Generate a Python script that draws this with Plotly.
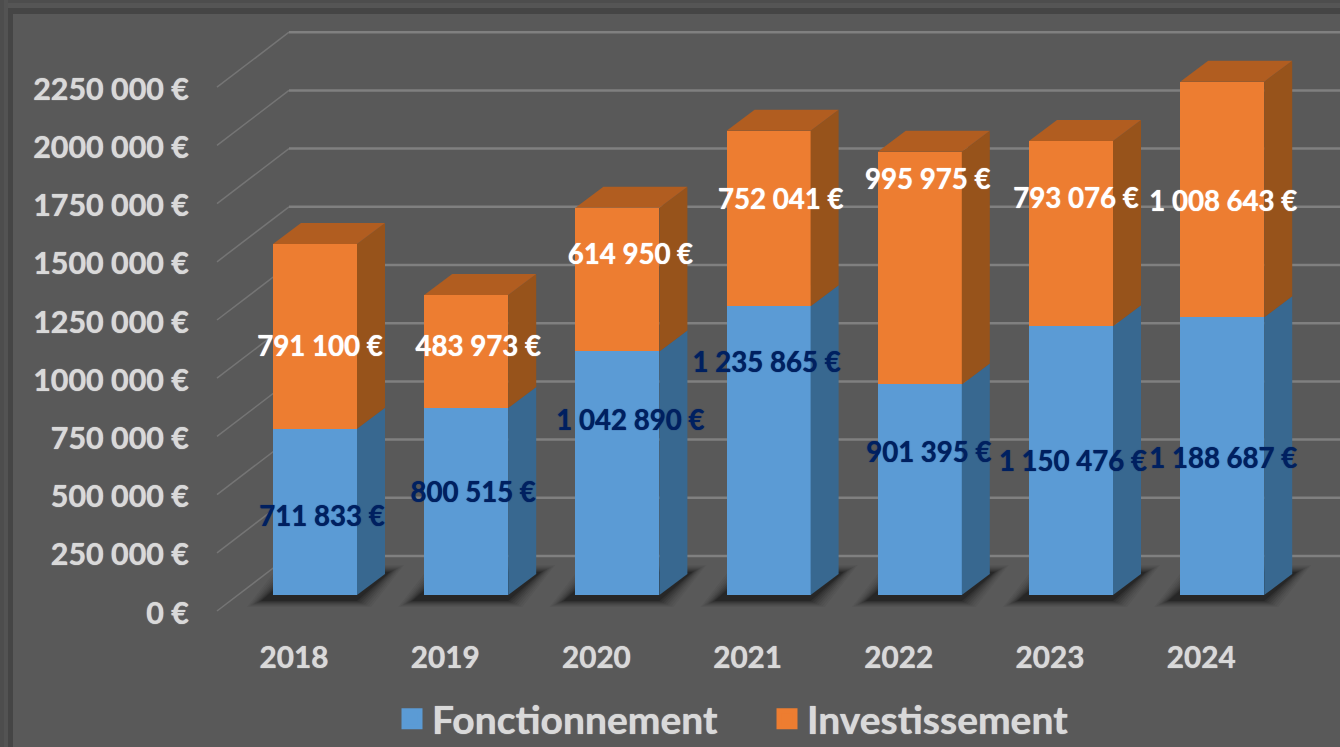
import plotly.graph_objects as go

years = ["2018", "2019", "2020", "2021", "2022", "2023", "2024"]
fonctionnement = [711833, 800515, 1042890, 1235865, 901395, 1150476, 1188687]
investissement = [791100, 483973, 614950, 752041, 995975, 793076, 1008643]
tick_values = [0, 250000, 500000, 750000, 1000000, 1250000, 1500000, 1750000, 2000000, 2250000]
tick_labels = ["0 €", "250 000 €", "500 000 €", "750 000 €", "1000 000 €", "1250 000 €",
               "1500 000 €", "1750 000 €", "2000 000 €", "2250 000 €"]

# hand-placed data labels: value height and sideways shift (in categories)
fonct_label_y = [325000, 428000, 736000, 985000, 599000, 561000, 574000]
fonct_label_dx = [0.046, 0.046, 0.086, -0.013, 0.06, 0.013, 0.007]
inv_label_y = [1053000, 1053000, 1447000, 1683000, 1768000, 1687000, 1674000]
inv_label_dx = [0.033, 0.08, 0.086, 0.08, 0.053, 0.033, 0.007]

W, H = 1340, 747
LEFT, BOTTOM = 190, 628
BAR_X0, STEP = 315.0, 151.2
BAR_W = 84 / STEP
GRID_ZERO, GRID_STEP = 613.0, 58.2      # front-of-floor scale (tick labels)
BAR_ZERO, BAR_SCALE = 595.0, 233.6e-6   # bar scale

FONT = "Lato, Carlito, 'Open Sans', sans-serif"
BLUE, ORANGE = "#5b9bd5", "#ed7d31"
BLUE_SIDE, ORANGE_SIDE, ORANGE_TOP = "#386890", "#97531b", "#b15d20"
SOFT_LIGHT = "0 0 1px #d9d9d9"


def px_x(dpx):
    return dpx / STEP


def px_grid(dpx):
    return dpx / GRID_STEP * 250000


def px_bar(dpx):
    return dpx / BAR_SCALE


def fmt(v):
    return f"{v:,}".replace(",", " ") + " €"


xs = list(range(len(years)))
fig = go.Figure()

# floor-to-wall gridlines (base axis, under the bars)
x_front = px_x(217 - BAR_X0)
x_back = px_x(289 - BAR_X0)
x_end = px_x(W - BAR_X0)
lift = px_grid(2)
rise = px_grid(57)
for v in tick_values:
    fig.add_trace(go.Scatter(
        x=[x_front, x_back], y=[v + lift, v + rise], mode="lines",
        line=dict(color="#757575", width=1.5), hoverinfo="skip", showlegend=False,
        xaxis="x", yaxis="y"))
    fig.add_trace(go.Scatter(
        x=[x_back, x_end], y=[v + rise, v + rise], mode="lines",
        line=dict(color="#808080", width=2.5), hoverinfo="skip", showlegend=False,
        xaxis="x", yaxis="y"))

# soft floor shadows: stacked translucent layers approximate a blur
for grow, alpha in [(14, 0.05), (12, 0.06), (10, 0.08), (8, 0.1), (6, 0.12), (4, 0.15), (2, 0.2), (0, 0.3)]:
    for i in xs:
        lx = i - BAR_W / 2 - px_x(12 + grow)
        rx = i + BAR_W / 2 + px_x(grow)
        dx = px_x(33)
        y0 = px_grid(12 - grow * 0.43)
        y1 = px_grid(41 + grow * 0.5)
        fig.add_trace(go.Scatter(
            x=[lx, rx, rx + dx, lx + dx, lx], y=[y0, y0, y1, y1, y0],
            mode="lines", fill="toself", fillcolor=f"rgba(20,20,20,{alpha})",
            line=dict(width=0), hoverinfo="skip", showlegend=False,
            xaxis="x", yaxis="y"))

# front faces
fig.add_trace(go.Bar(x=xs, y=fonctionnement, width=BAR_W, marker=dict(color=BLUE, line=dict(width=0)),
                     name="Fonctionnement", showlegend=False, xaxis="x", yaxis="y2"))
fig.add_trace(go.Bar(x=xs, y=investissement, width=BAR_W, marker=dict(color=ORANGE, line=dict(width=0)),
                     name="Investissement", showlegend=False, xaxis="x", yaxis="y2"))

# side and top faces derived from the values
depth_x, depth_y = px_x(28), px_bar(21)
for i, (a, b) in enumerate(zip(fonctionnement, investissement)):
    xr = i + BAR_W / 2
    xl = i - BAR_W / 2
    for lo, hi, col in [(0, a, BLUE_SIDE), (a, a + b, ORANGE_SIDE)]:
        fig.add_trace(go.Scatter(
            x=[xr, xr + depth_x, xr + depth_x, xr, xr],
            y=[lo, lo + depth_y, hi + depth_y, hi, lo],
            mode="lines", fill="toself", fillcolor=col, line=dict(width=0),
            hoverinfo="skip", showlegend=False, xaxis="x", yaxis="y2"))
    top = a + b
    fig.add_trace(go.Scatter(
        x=[xl, xr, xr + depth_x, xl + depth_x, xl],
        y=[top, top, top + depth_y, top + depth_y, top],
        mode="lines", fill="toself", fillcolor=ORANGE_TOP, line=dict(width=0),
        hoverinfo="skip", showlegend=False, xaxis="x", yaxis="y2"))

# data labels
fig.add_trace(go.Scatter(
    x=[i + d for i, d in zip(xs, fonct_label_dx)], y=fonct_label_y, mode="text",
    text=[fmt(v) for v in fonctionnement], textposition="middle center",
    textfont=dict(family=FONT, size=27.6, color="#002060", weight="bold", shadow="0 0 1px #002060"),
    hoverinfo="skip", showlegend=False, xaxis="x", yaxis="y2"))
fig.add_trace(go.Scatter(
    x=[i + d for i, d in zip(xs, inv_label_dx)], y=inv_label_y, mode="text",
    text=[fmt(v) for v in investissement], textposition="middle center",
    textfont=dict(family=FONT, size=27.6, color="#ffffff", weight="bold", shadow="0 0 1px #ffffff"),
    hoverinfo="skip", showlegend=False, xaxis="x", yaxis="y2"))

# legend entries
for name, col in [("Fonctionnement", BLUE), ("Investissement", ORANGE)]:
    fig.add_trace(go.Scatter(
        x=[None], y=[None], mode="markers", name=name,
        marker=dict(symbol="square", size=16, color=col, line=dict(color=col, width=5)),
        xaxis="x", yaxis="y2"))

# frame
frame = [
    (0, 0, W, 3, "#4d4d4d"), (0, 3, W, 8, "#555555"), (0, 8, W, 14, "#454545"),
    (0, 0, 4, H, "#4d4d4d"), (4, 0, 8, H, "#535353"), (8, 8, 13, H, "#454545"),
]
shapes = [dict(type="rect", xref="paper", yref="paper",
               x0=(a - LEFT) / (W - LEFT), x1=(c - LEFT) / (W - LEFT),
               y0=1 - (d / BOTTOM), y1=1 - (b / BOTTOM),
               fillcolor=col, line=dict(width=0), layer="below")
          for a, b, c, d, col in frame]

fig.update_layout(
    width=W, height=H, autosize=False,
    margin=dict(l=LEFT, r=0, t=0, b=H - BOTTOM, pad=0, autoexpand=False),
    paper_bgcolor="#595959", plot_bgcolor="rgba(0,0,0,0)",
    barmode="stack", bargap=0,
    shapes=shapes,
    font=dict(family=FONT, color="#d9d9d9"),
    xaxis=dict(range=[(LEFT - BAR_X0) / STEP, (W - BAR_X0) / STEP],
               tickmode="array", tickvals=[i - 21 / STEP for i in xs], ticktext=years,
               tickfont=dict(family=FONT, size=29.7, color="#d9d9d9", weight="bold", shadow=SOFT_LIGHT),
               showgrid=False, zeroline=False, showline=False, ticks="", ticklabelstandoff=9),
    yaxis=dict(range=[(GRID_ZERO - BOTTOM) / GRID_STEP * 250000, GRID_ZERO / GRID_STEP * 250000],
               tickmode="array", tickvals=tick_values, ticktext=tick_labels,
               tickfont=dict(family=FONT, size=30.4, color="#d9d9d9", weight="bold", shadow=SOFT_LIGHT),
               showgrid=False, zeroline=False, showline=False, ticks=""),
    yaxis2=dict(range=[(BAR_ZERO - BOTTOM) / BAR_SCALE, BAR_ZERO / BAR_SCALE],
                overlaying="y", visible=False, showgrid=False, zeroline=False),
    showlegend=True,
    legend=dict(orientation="h", x=(392 - LEFT) / (W - LEFT), xanchor="left",
                y=(BOTTOM - 719) / BOTTOM, yanchor="middle", bgcolor="rgba(0,0,0,0)",
                font=dict(family=FONT, size=39, color="#d9d9d9", weight="bold", shadow=SOFT_LIGHT),
                itemsizing="trace", entrywidthmode="pixels", entrywidth=330,
                traceorder="normal"),
)

fig.write_html("out.html", config=dict(displayModeBar=False),
               post_script="document.body.style.margin='0';document.body.style.overflow='hidden';")
